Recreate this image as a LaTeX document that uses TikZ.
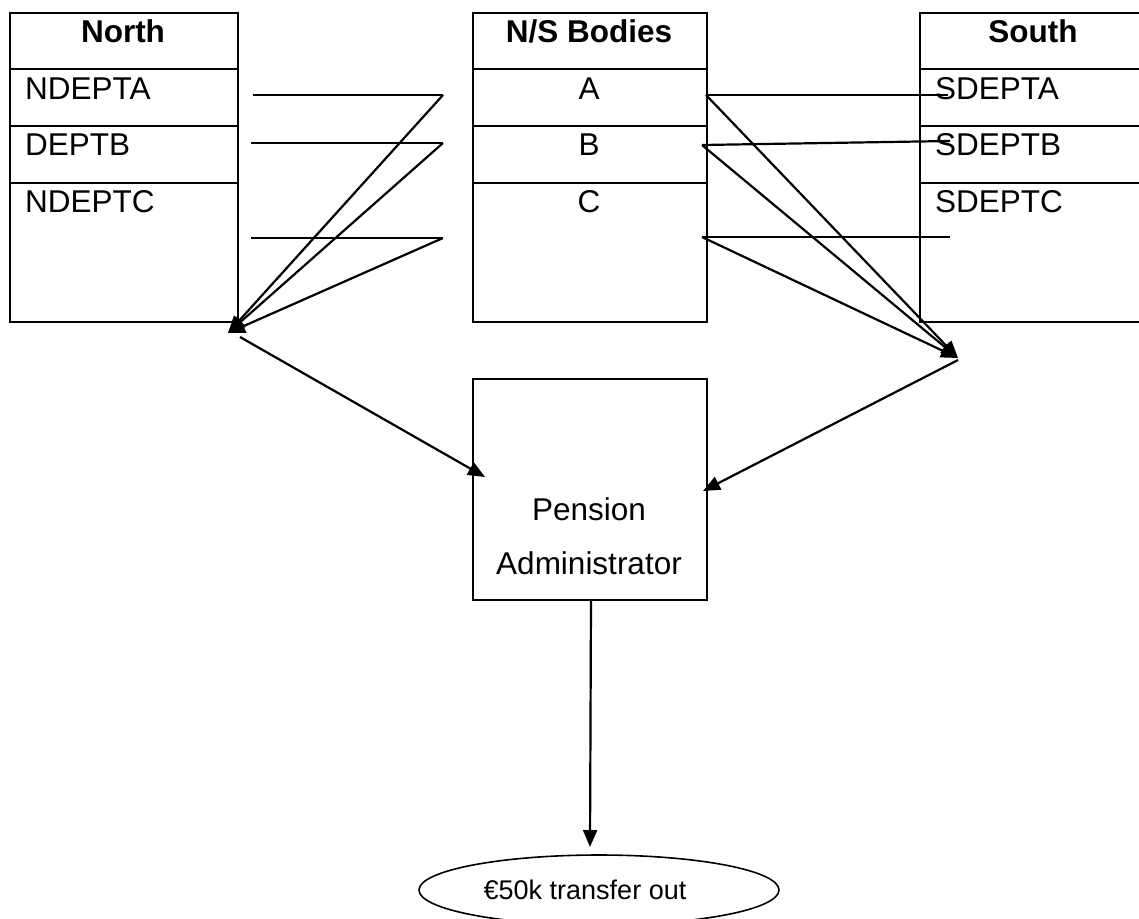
\documentclass[tikz,border=0pt]{standalone}
\usepackage{fontspec}
\setmainfont{Liberation Sans}
\usetikzlibrary{arrows.meta,shapes.geometric}
\begin{document}
\begin{tikzpicture}[x=1pt,y=-1pt,
  box/.style={draw,line width=2.2pt,inner sep=0pt,anchor=north west},
  lbl/.style={font=\fontsize{31.5}{37}\selectfont,inner sep=0pt,anchor=base west},
  mid/.style={font=\fontsize{31.5}{37}\selectfont,inner sep=0pt,anchor=base},
  hdr/.style={font=\fontsize{31.5}{37}\selectfont\bfseries,inner sep=0pt,anchor=base},
  conn/.style={line width=2.2pt},
  arr/.style={line width=2.2pt,-{Triangle[length=17pt,width=14pt]}}]
\path[use as bounding box] (0,0) rectangle (1139,918);
\clip (0,0) rectangle (1139,918);

% North table
\node[box,minimum width=228pt,minimum height=56pt]  (nh) at (9,12) {};
\node[box,minimum width=228pt,minimum height=57pt]  (na) at (9,68) {};
\node[box,minimum width=228pt,minimum height=57pt]  (nb) at (9,125) {};
\node[box,minimum width=228pt,minimum height=139pt] (nc) at (9,182) {};
\node[hdr] (nht) at (123,42) {North};
\node[lbl] (nat) at (25,99) {NDEPTA};
\node[lbl] (nbt) at (25,155) {DEPTB};
\node[lbl] (nct) at (25,212) {NDEPTC};

% N/S Bodies table
\node[box,minimum width=234pt,minimum height=56pt]  (mh) at (472,12) {};
\node[box,minimum width=234pt,minimum height=57pt]  (ma) at (472,68) {};
\node[box,minimum width=234pt,minimum height=57pt]  (mb) at (472,125) {};
\node[box,minimum width=234pt,minimum height=139pt] (mc) at (472,182) {};
\node[hdr] (mht) at (589,42) {N/S Bodies};
\node[mid] (mat) at (589,99) {A};
\node[mid] (mbt) at (589,155) {B};
\node[mid] (mct) at (589,212) {C};

% South table
\node[box,minimum width=228pt,minimum height=56pt]  (sh) at (919,12) {};
\node[box,minimum width=228pt,minimum height=57pt]  (sa) at (919,68) {};
\node[box,minimum width=228pt,minimum height=57pt]  (sb) at (919,125) {};
\node[box,minimum width=228pt,minimum height=139pt] (sc) at (919,182) {};
\node[hdr] (sht) at (1033,42) {South};
\node[lbl] (sat) at (935,99) {SDEPTA};
\node[lbl] (sbt) at (935,155) {SDEPTB};
\node[lbl] (sct) at (935,212) {SDEPTC};

% Pension administrator
\node[box,minimum width=234pt,minimum height=221pt] (pa) at (472,378) {};
\node[font=\fontsize{31.5}{54}\selectfont,align=center,inner sep=0pt] (pat) at (589,536) {Pension\\Administrator};

% Output ellipse
\node[draw,ellipse,line width=1.6pt,minimum width=360pt,minimum height=70pt,inner sep=0pt,
      font=\fontsize{27}{32}\selectfont] (out) at (599,890) {€50k transfer out\kern28pt};

% Left connector coordinates
\coordinate (l1s) at (253,95);  \coordinate (l1e) at (443,95);
\coordinate (l2s) at (251,143); \coordinate (l2e) at (443,143);
\coordinate (l3s) at (251,238); \coordinate (l3e) at (443,238);
\coordinate (lt)  at (228,333);
\coordinate (lo)  at (240,337); \coordinate (pl) at (485,477);

% Right connector coordinates
\coordinate (r1s) at (706,95);  \coordinate (r1e) at (948,95);
\coordinate (r2s) at (702,145); \coordinate (r2e) at (950,141);
\coordinate (r3s) at (702,237); \coordinate (r3e) at (950,237);
\coordinate (rt)  at (958,358);
\coordinate (ro)  at (958,360); \coordinate (pr) at (703,491);

% Bottom connector coordinates
\coordinate (ds) at (591,600); \coordinate (dt) at (590,847);

\draw[conn] (l1s) -- (l1e);
\draw[conn] (l2s) -- (l2e);
\draw[conn] (l3s) -- (l3e);
\draw[arr] (l1e) -- (lt);
\draw[arr] (l2e) -- (lt);
\draw[arr] (l3e) -- (lt);
\draw[arr] (lo) -- (pl);

\draw[conn] (r1s) -- (r1e);
\draw[conn] (r2s) -- (r2e);
\draw[conn] (r3s) -- (r3e);
\draw[arr] (r1s) -- (rt);
\draw[arr] (r2s) -- (rt);
\draw[arr] (r3s) -- (rt);
\draw[arr] (ro) -- (pr);

\draw[arr] (ds) -- (dt);
\end{tikzpicture}
\end{document}
